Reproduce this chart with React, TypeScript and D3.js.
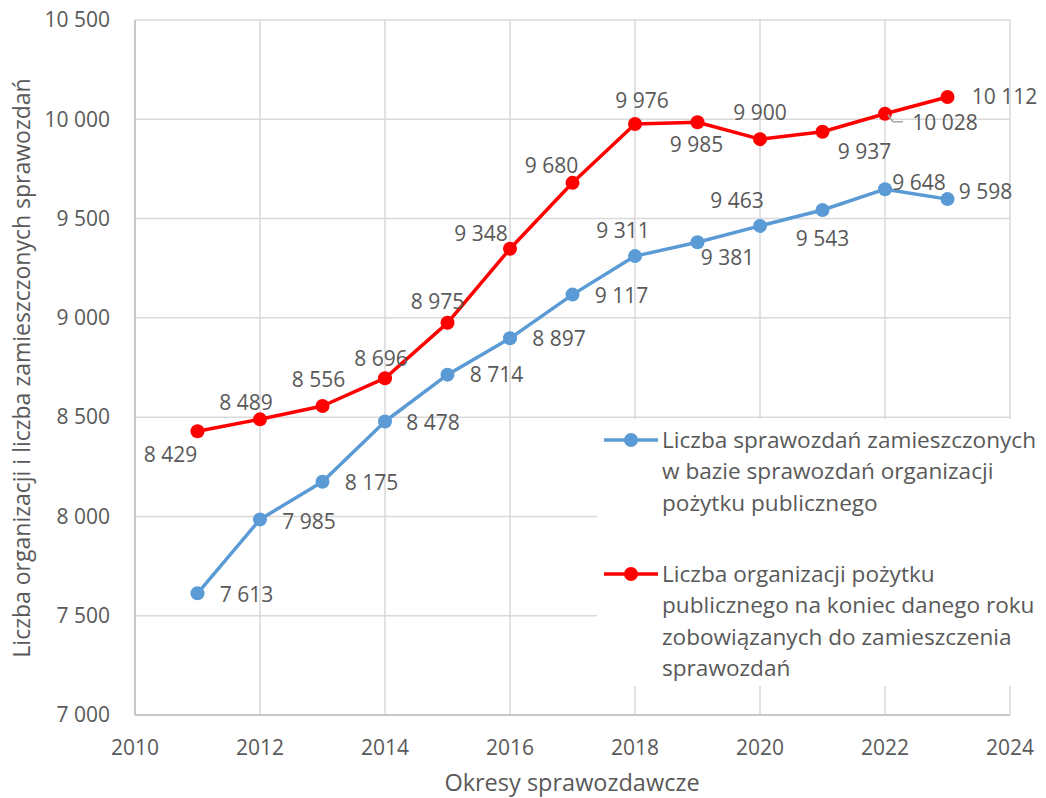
import React from "react";
import * as d3 from "d3";

const years = [2011, 2012, 2013, 2014, 2015, 2016, 2017, 2018, 2019, 2020, 2021, 2022, 2023];
const reports = [7613, 7985, 8175, 8478, 8714, 8897, 9117, 9311, 9381, 9463, 9543, 9648, 9598];
const organizations = [8429, 8489, 8556, 8696, 8975, 9348, 9680, 9976, 9985, 9900, 9937, 10028, 10112];
const xTicks = [2010, 2012, 2014, 2016, 2018, 2020, 2022, 2024];
const yTicks = [7000, 7500, 8000, 8500, 9000, 9500, 10000, 10500];

const reportsLabel = ["Liczba sprawozdań zamieszczonych", "w bazie sprawozdań organizacji", "pożytku publicznego"];
const orgLabel = ["Liczba organizacji pożytku", "publicznego na koniec danego roku", "zobowiązanych do zamieszczenia", "sprawozdań"];

// label offsets (dx, dy) relative to the marker
const reportsLabelOffsets: [number, number][] = [
  [49, 1], [49, 2], [49, 1], [48, 1], [49, 0], [49, 0], [49, 1],
  [-12, -25], [30, 15], [-23, -25], [0, 29], [34, -7], [38, -7],
];
const orgLabelOffsets: [number, number][] = [
  [-27, 23], [-14, -17], [-4, -26], [-4, -20], [-10, -21], [-29, -15], [-21, -17],
  [7, -23], [-1, 22], [0, -26], [42, 20], [60, 9], [57, 0],
];

const fmt = (v: number) => d3.format(",")(v).replace(/,/g, " ");

export default function App() {
  const width = 1046, height = 798;
  const x = d3.scaleLinear().domain([2010, 2024]).range([135, 1010]);
  const y = d3.scaleLinear().domain([7000, 10500]).range([715, 20]);
  const line = d3.line<number>().x((_, i) => x(years[i])).y((d) => y(d));
  const font = "'Open Sans', Calibri, sans-serif";
  const textColor = "#595959";
  const blue = "#5B9BD5";
  const red = "#FF0000";
  const numSize = 21;
  const wordSize = 23.5;
  const legendSize = 22.6;

  const series = [
    { values: reports, color: blue, offsets: reportsLabelOffsets },
    { values: organizations, color: red, offsets: orgLabelOffsets },
  ];

  return (
    <svg width={width} height={height} style={{ position: "absolute", left: 0, top: 0 }} fontFamily={font}>
      <rect width={width} height={height} fill="#fff" />
      {yTicks.map((t) => (
        <line key={"gy" + t} x1={x(2010)} x2={x(2024)} y1={y(t)} y2={y(t)} stroke="#d9d9d9" strokeWidth={1.5} />
      ))}
      {xTicks.map((t) => (
        <line key={"gx" + t} x1={x(t)} x2={x(t)} y1={y(7000)} y2={y(10500)} stroke="#d9d9d9" strokeWidth={1.5} />
      ))}
      <line x1={x(2010)} x2={x(2024)} y1={y(7000)} y2={y(7000)} stroke="#bfbfbf" strokeWidth={1.5} />
      <line x1={x(2010)} x2={x(2010)} y1={y(7000)} y2={y(10500)} stroke="#bfbfbf" strokeWidth={1.5} />
      {yTicks.map((t) => (
        <text key={"ty" + t} x={110} y={y(t)} dy="0.35em" textAnchor="end" fontSize={numSize} fill={textColor}>
          {fmt(t)}
        </text>
      ))}
      {xTicks.map((t) => (
        <text key={"tx" + t} x={x(t)} y={748} dy="0.35em" textAnchor="middle" fontSize={numSize} fill={textColor}>
          {t}
        </text>
      ))}
      <text x={572} y={783} dy="0.35em" textAnchor="middle" fontSize={wordSize} fill={textColor}>
        Okresy sprawozdawcze
      </text>
      <text transform="translate(22,368) rotate(-90)" dy="0.35em" textAnchor="middle" fontSize={23} fill={textColor}>
        Liczba organizacji i liczba zamieszczonych sprawozdań
      </text>

      {series.map((s, si) => (
        <g key={"s" + si}>
          <path d={line(s.values) || ""} fill="none" stroke={s.color} strokeWidth={3.5} strokeLinejoin="round" />
          {s.values.map((v, i) => (
            <circle key={i} cx={x(years[i])} cy={y(v)} r={7} fill={s.color} />
          ))}
        </g>
      ))}
      <polyline
        points={`${x(2022) + 3},${y(10028) + 1} ${x(2022) + 8},${y(10028) + 8} ${x(2022) + 18},${y(10028) + 8}`}
        fill="none"
        stroke="#a6a6a6"
        strokeWidth={1.5}
      />
      {series.map((s, si) => (
        <g key={"l" + si}>
          {s.values.map((v, i) => (
            <text
              key={i}
              x={x(years[i]) + s.offsets[i][0]}
              y={y(v) + s.offsets[i][1]}
              dy="0.35em"
              textAnchor="middle"
              fontSize={numSize}
              fill={textColor}
            >
              {fmt(v)}
            </text>
          ))}
        </g>
      ))}

      <rect x={597} y={419} width={445} height={267} fill="#fff" />
      <line x1={604} x2={658} y1={440} y2={440} stroke={blue} strokeWidth={3.5} />
      <circle cx={631} cy={440} r={7} fill={blue} />
      {reportsLabel.map((t, i) => (
        <text key={"lr" + i} x={662} y={440 + i * 31.5} dy="0.35em" fontSize={legendSize} fill={textColor}>
          {t}
        </text>
      ))}
      <line x1={604} x2={658} y1={574} y2={574} stroke={red} strokeWidth={3.5} />
      <circle cx={631} cy={574} r={7} fill={red} />
      {orgLabel.map((t, i) => (
        <text key={"lo" + i} x={662} y={574 + i * 31.5} dy="0.35em" fontSize={legendSize} fill={textColor}>
          {t}
        </text>
      ))}
    </svg>
  );
}
